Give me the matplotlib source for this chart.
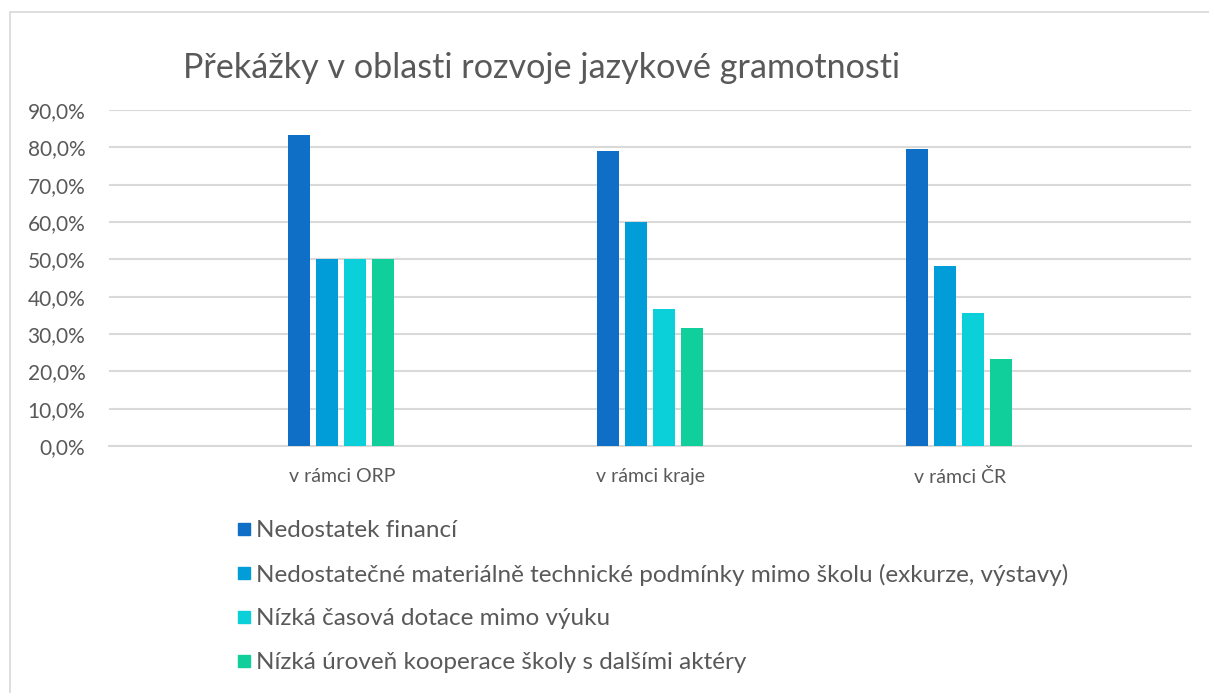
import matplotlib
matplotlib.use("Agg")
import matplotlib.pyplot as plt
from matplotlib.lines import Line2D
from matplotlib.patches import Rectangle
from matplotlib.ticker import FuncFormatter
import numpy as np

plt.rcParams["font.family"] = ["Lato", "DejaVu Sans"]

# ── Data ───────────────────────────────────────────────────────────────────────
categories = ["v rámci ORP", "v rámci kraje", "v rámci ČR"]
series_names = [
    "Nedostatek financí",
    "Nedostatečné materiálně technické podmínky mimo školu (exkurze, výstavy)",
    "Nízká časová dotace mimo výuku",
    "Nízká úroveň kooperace školy s dalšími aktéry",
]
financi    = [0.833, 0.790, 0.795]
materialni = [0.500, 0.600, 0.483]
casova     = [0.500, 0.368, 0.355]
kooperace  = [0.500, 0.316, 0.232]
colors = ["#0F6FC6", "#009DD9", "#0BD0D9", "#10CF9B"]

TEXT = "#595959"
GRID = "#D9D9D9"

# ── Figure ─────────────────────────────────────────────────────────────────────
fig = plt.figure(figsize=(12.09, 6.93), dpi=100)
fig.patches.append(Rectangle((10 / 1209, -0.1), 1.2, 1 - 12 / 693 + 0.1,
                             transform=fig.transFigure, fill=False,
                             edgecolor=GRID, lw=1.2))

ax = fig.add_axes([109 / 1209, 1 - 446 / 693, 1082 / 1209, 336 / 693])

x = np.arange(len(categories))
pitch, width = 0.0908, 0.0713
for i, (vals, name, col) in enumerate(zip([financi, materialni, casova, kooperace],
                                          series_names, colors)):
    ax.bar(x + (i - 1.5) * pitch - 0.003, vals, width, color=col, zorder=3, label=name)

ax.set_xlim(-0.755, 2.749)
ax.set_ylim(0, 0.9)
ax.set_yticks(np.arange(0, 0.91, 0.1))
ax.yaxis.set_major_formatter(FuncFormatter(lambda v, _: f"{v * 100:.1f}%".replace(".", ",")))
ax.set_xticks(x)
ax.set_xticklabels(categories)
ax.tick_params(axis="both", length=0, labelcolor=TEXT)
ax.tick_params(axis="y", pad=17, labelsize=15)
ax.tick_params(axis="x", pad=16, labelsize=14)
ax.grid(axis="y", color=GRID, lw=1.5, zorder=0)
for s in ["top", "right", "left"]:
    ax.spines[s].set_visible(False)
ax.spines["bottom"].set_color(GRID)
ax.spines["bottom"].set_linewidth(1.5)

fig.text(183 / 1209, 1 - 68 / 693, "Překážky v oblasti rozvoje jazykové gramotnosti",
         fontsize=24.6, color=TEXT, va="center", ha="left")

handles = [Line2D([], [], marker="s", ls="none", markersize=9, color=c) for c in colors]
fig.legend(handles, series_names, loc="upper left",
           bbox_to_anchor=(222 / 1209, 1 - 508 / 693), frameon=False,
           fontsize=17.5, labelcolor=TEXT, handletextpad=0.1, labelspacing=0.93,
           handlelength=0.8, borderpad=0)

fig.savefig("out.png", dpi=100)
